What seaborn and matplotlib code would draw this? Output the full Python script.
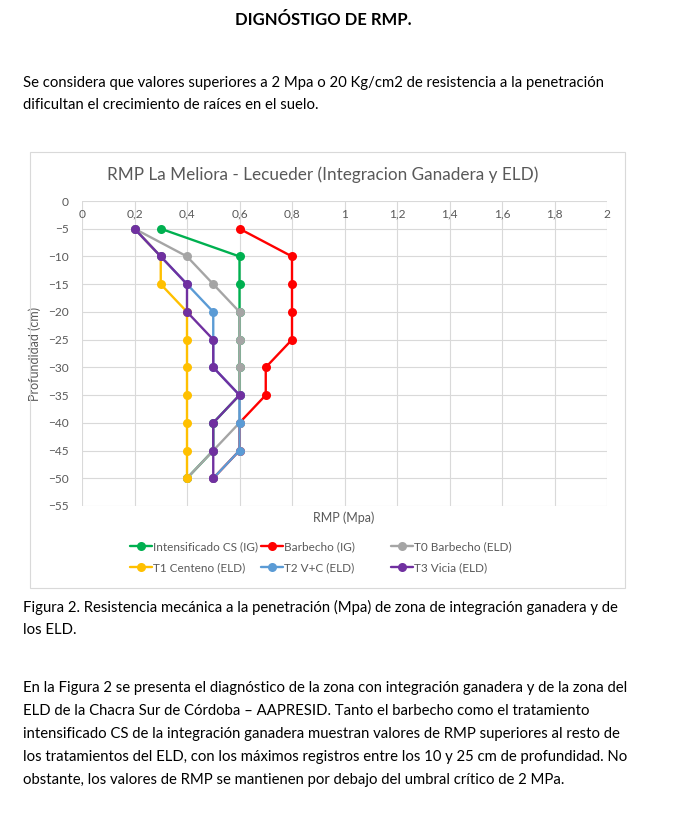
import pandas as pd
import matplotlib.pyplot as plt
import seaborn as sns
from matplotlib.lines import Line2D
from matplotlib.patches import Rectangle

# depth (cm) and RMP values (Mpa)
depth = [-5, -10, -15, -20, -25, -30, -35, -40, -45, -50]
intensificado_cs = [0.3, 0.6, 0.6, 0.6, 0.6, 0.6, 0.6, 0.5, 0.5, 0.4]
barbecho_ig = [0.6, 0.8, 0.8, 0.8, 0.8, 0.7, 0.7, 0.6, 0.6, 0.5]
t0_barbecho = [0.2, 0.4, 0.5, 0.6, 0.6, 0.6, 0.6, 0.6, 0.5, 0.4]
t1_centeno = [0.2, 0.3, 0.3, 0.4, 0.4, 0.4, 0.4, 0.4, 0.4, 0.4]
t2_vc = [0.2, 0.3, 0.4, 0.5, 0.5, 0.5, 0.6, 0.6, 0.6, 0.5]
t3_vicia = [0.2, 0.3, 0.4, 0.4, 0.5, 0.5, 0.6, 0.5, 0.5, 0.5]

series_names = ['Intensificado CS (IG)', 'Barbecho (IG)', 'T0 Barbecho (ELD)',
                'T1 Centeno (ELD)', 'T2 V+C (ELD)', 'T3 Vicia (ELD)']
series_values = [intensificado_cs, barbecho_ig, t0_barbecho, t1_centeno, t2_vc, t3_vicia]
colors = ['#00B050', '#FF0000', '#A5A5A5', '#FFC000', '#5B9BD5', '#7030A0']

x_ticks = [0, 0.2, 0.4, 0.6, 0.8, 1, 1.2, 1.4, 1.6, 1.8, 2]
x_labels = ['0', '0,2', '0,4', '0,6', '0,8', '1', '1,2', '1,4', '1,6', '1,8', '2']
y_ticks = list(range(0, -60, -5))

rows = []
for name, vals in zip(series_names, series_values):
    for d, v in zip(depth, vals):
        rows.append({'Serie': name, 'RMP': v, 'Profundidad': d})
df = pd.DataFrame(rows)

sns.set_style("white")
plt.rcParams['font.family'] = ['Lato', 'DejaVu Sans']

W, H = 677, 821
fig = plt.figure(figsize=(W / 100, H / 100), dpi=100)

def px(x, y):
    return x / W, 1 - y / H

# page text
fig.text(*px(323, 20), 'DIGNÓSTIGO DE RMP.', ha='center', va='center',
         fontsize=12, fontweight='bold', color='black')
body = dict(ha='left', va='center', fontsize=10.7, color='black')
fig.text(*px(23, 83), 'Se considera que valores superiores a 2 Mpa o 20 Kg/cm2 de resistencia a la penetración', **body)
fig.text(*px(23, 105), 'dificultan el crecimiento de raíces en el suelo.', **body)
fig.text(*px(23, 607), 'Figura 2. Resistencia mecánica a la penetración (Mpa) de zona de integración ganadera y de', **body)
fig.text(*px(23, 630), 'los ELD.', **body)
para = ['En la Figura 2 se presenta el diagnóstico de la zona con integración ganadera y de la zona del',
        'ELD de la Chacra Sur de Córdoba – AAPRESID. Tanto el barbecho como el tratamiento',
        'intensificado CS de la integración ganadera muestran valores de RMP superiores al resto de',
        'los tratamientos del ELD, con los máximos registros entre los 10 y 25 cm de profundidad. No',
        'obstante, los valores de RMP se mantienen por debajo del umbral crítico de 2 MPa.']
for i, line in enumerate(para):
    fig.text(*px(23, 688 + 23 * i), line, **body)

# chart frame
fig.patches.append(Rectangle(px(30, 588), 595 / W, 436 / H, transform=fig.transFigure,
                             fill=False, edgecolor='#D9D9D9', linewidth=0.8))
fig.text(*px(323, 175), 'RMP La Meliora - Lecueder (Integracion Ganadera y ELD)',
         ha='center', va='center', fontsize=12.3, color='#595959')

l, b = px(82, 506)
ax = fig.add_axes([l, b, 525 / W, 305 / H])
sns.lineplot(data=df, x='RMP', y='Profundidad', hue='Serie', hue_order=series_names,
             palette=colors, marker='o', markersize=6.5, markeredgewidth=0,
             linewidth=1.7, sort=False, estimator=None, legend=False, ax=ax)

ax.set_xlim(0, 2)
ax.set_ylim(-55, 0)
ax.set_xticks(x_ticks)
ax.set_xticklabels(x_labels)
ax.set_yticks(y_ticks)
ax.grid(True, color='#D9D9D9', linewidth=0.8)
ax.set_axisbelow(True)
for s in ax.spines.values():
    s.set_visible(False)
ax.xaxis.tick_top()
ax.tick_params(axis='x', top=False, labeltop=True, bottom=False, labelbottom=False,
               pad=-17, labelsize=8.6, labelcolor='#595959')
ax.tick_params(axis='y', left=False, labelsize=8.6, labelcolor='#595959', pad=6)
ax.set_xlabel('')
ax.set_ylabel('Profundidad (cm)', fontsize=9, color='#595959', labelpad=5)
fig.text(*px(344, 518), 'RMP (Mpa)', ha='center', va='center', fontsize=9, color='#595959')

# legend in three columns like the original
handles = [Line2D([0], [0], color=c, marker='o', markersize=6.5, markeredgewidth=0, linewidth=1.7)
           for c in colors]
col_x = [130, 261, 391]
for j in range(3):
    hs = [handles[j], handles[j + 3]]
    ls = [series_names[j], series_names[j + 3]]
    fig.legend(hs, ls, loc='upper left', bbox_to_anchor=px(col_x[j], 541), frameon=False,
               fontsize=8.5, labelcolor='#595959', handlelength=1.85, handletextpad=0.1,
               borderpad=0, borderaxespad=0, labelspacing=0.85)

fig.savefig('out.png', dpi=100)
